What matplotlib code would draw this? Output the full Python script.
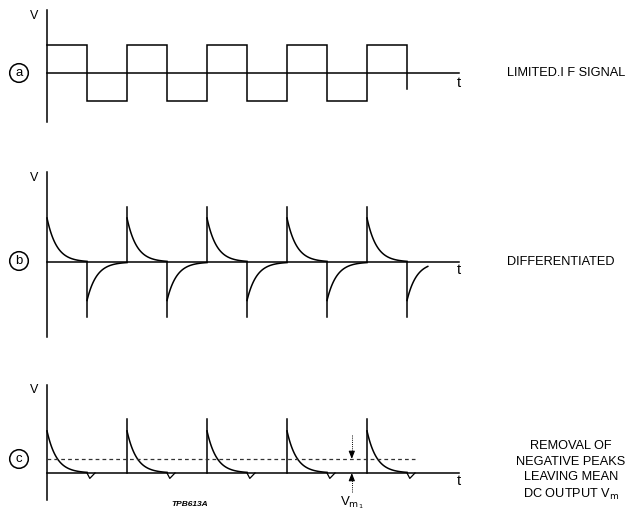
import numpy as np
import matplotlib
matplotlib.use('Agg')
import matplotlib.pyplot as plt
from matplotlib import font_manager

# ---------------- data (time in half-periods, voltage normalised) ----------------
a_levels = [1, -1, 1, -1, 1, -1, 1, -1, 1]      # square wave level per half period
a_final_level = -0.57                            # where the last edge ends
pos_spike_t = [0, 2, 4, 6, 8]                     # rising edges
neg_spike_t = [1, 3, 5, 7, 9]                     # falling edges
b_edge_height = 1.0
b_pos_amp = 0.80
b_neg_amp = 0.70
b_last_curve_len = 0.52
tau = 0.24
c_edge_height = 1.0
c_pos_amp = 0.78
c_dip_depth = 0.10
c_mean_level = 0.26
c_mean_end = 9.2
c_arrow_t = 7.62
zero_line_end = 10.3

labels_right = ["LIMITED.I F SIGNAL", "DIFFERENTIATED",
                "REMOVAL OF\nNEGATIVE PEAKS\nLEAVING MEAN\nDC OUTPUT V$_\\mathrm{m}$"]
panel_letters = ["a", "b", "c"]

# ---------------- layout ----------------
W, H = 634, 515
X0, PX_T = 47, 40
fig = plt.figure(figsize=(W / 100, H / 100), dpi=100)
fig.patch.set_facecolor('white')

avail = {f.name for f in font_manager.fontManager.ttflist}
narrow = ['Liberation Sans Narrow', 'DejaVu Sans'] if 'Liberation Sans Narrow' in avail else ['Liberation Sans', 'DejaVu Sans']

LW = 1.1
K = 'black'


def make_ax(top, bot, zero_px, px_per_v):
    ax = fig.add_axes([0, 1 - bot / H, 1, (bot - top) / H])
    ax.set_xlim(-X0 / PX_T, (W - X0) / PX_T)
    ax.set_ylim(-(bot - zero_px) / px_per_v, (zero_px - top) / px_per_v)
    ax.axis('off')
    return ax


def px2fig(x, y):
    return x / W, 1 - y / H


def decay(t0, amp, length, sign=1, n=80):
    tt = np.linspace(0, length, n)
    return t0 + tt, sign * amp * np.exp(-tt / tau)


# ---------- panel a ----------
axa = make_ax(0, 150, 73, 28)
xs, ys = [0], [a_levels[0]]
for i in range(1, len(a_levels)):
    xs += [i, i]
    ys += [a_levels[i - 1], a_levels[i]]
n = len(a_levels)
xs += [n, n]
ys += [a_levels[-1], a_final_level]
axa.plot(xs, ys, color=K, lw=LW, solid_joinstyle='miter')
axa.plot([0, zero_line_end], [0, 0], color=K, lw=LW)
axa.plot([0, 0], [-1.75, 2.25], color=K, lw=LW)

# ---------- panel b ----------
axb = make_ax(150, 350, 262, 55)
axb.plot([0, zero_line_end], [0, 0], color=K, lw=LW)
axb.plot([0, 0], [-1.36, 1.64], color=K, lw=LW)
for t in pos_spike_t:
    if t > 0:
        axb.plot([t, t], [0, b_edge_height], color=K, lw=LW)
    x, y = decay(t, b_pos_amp, 1.0)
    axb.plot(x, y, color=K, lw=LW)
for t in neg_spike_t:
    axb.plot([t, t], [0, -b_edge_height], color=K, lw=LW)
    length = b_last_curve_len if t == neg_spike_t[-1] else 1.0
    x, y = decay(t, b_neg_amp, length, sign=-1)
    axb.plot(x, y, color=K, lw=LW)

# ---------- panel c ----------
axc = make_ax(350, 515, 473, 54)
axc.plot([0, zero_line_end], [0, 0], color=K, lw=LW)
axc.plot([0, 0], [-0.5, 1.63], color=K, lw=LW)
for t in pos_spike_t:
    if t > 0:
        axc.plot([t, t], [0, c_edge_height], color=K, lw=LW)
    x, y = decay(t, c_pos_amp, 1.0)
    axc.plot(x, y, color=K, lw=LW)
for t in neg_spike_t:
    axc.plot([t, t + 0.07, t + 0.2], [0, -c_dip_depth, 0], color=K, lw=0.9)
axc.plot([0, c_mean_end], [c_mean_level, c_mean_level], color='#333333', lw=0.9,
         dashes=(3, 2.5))
# arrows
axc.plot([c_arrow_t, c_arrow_t], [0.70, 0.36], color=K, lw=0.7, ls=(0, (1, 1.2)))
axc.annotate('', xy=(c_arrow_t, c_mean_level), xytext=(c_arrow_t, 0.38),
             arrowprops=dict(arrowstyle='-|>,head_width=0.18,head_length=0.45',
                             lw=0.8, color=K, shrinkA=0, shrinkB=0))
axc.plot([c_arrow_t, c_arrow_t], [-0.35, -0.1], color=K, lw=0.7, ls=(0, (1, 1.2)))
axc.annotate('', xy=(c_arrow_t, 0), xytext=(c_arrow_t, -0.12),
             arrowprops=dict(arrowstyle='-|>,head_width=0.18,head_length=0.45',
                             lw=0.8, color=K, shrinkA=0, shrinkB=0))

# ---------- texts ----------
for ypx in [16, 178, 390]:
    fig.text(*px2fig(34, ypx), 'V', ha='center', va='center', fontsize=9, family=narrow)
for ypx in [83, 270, 481]:
    fig.text(*px2fig(459, ypx), 't', ha='center', va='center', fontsize=10.5, family=narrow)
for letter, ypx in zip(panel_letters, [73, 261, 459]):
    fig.text(*px2fig(19, ypx), letter, ha='center', va='center', fontsize=9.5, family=narrow,
             bbox=dict(boxstyle='circle,pad=0.25', fc='white', ec=K, lw=1.1))

fig.text(*px2fig(507, 73), labels_right[0], ha='left', va='center', fontsize=9.2, family=narrow)
fig.text(*px2fig(507, 262), labels_right[1], ha='left', va='center', fontsize=9.2, family=narrow)
fig.text(*px2fig(571, 471), labels_right[2], ha='center', va='center', fontsize=9.2,
         family=narrow, linespacing=1.35)

fig.text(*px2fig(352, 503), r'V$_{\mathrm{m}_1}$', ha='center', va='center', fontsize=9.5, family=narrow)
fig.text(*px2fig(190, 505), 'TPB613A', ha='center', va='center', fontsize=6,
         family=narrow, style='italic', weight='bold')

fig.savefig('out.png', dpi=100, facecolor='white')
